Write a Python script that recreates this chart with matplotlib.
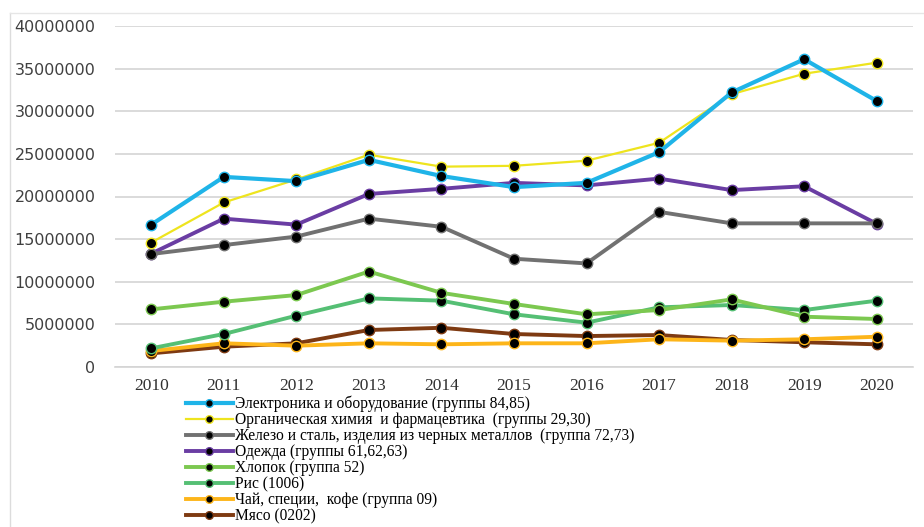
import matplotlib
matplotlib.use("Agg")
import matplotlib.pyplot as plt
from matplotlib.lines import Line2D

years = ["2010", "2011", "2012", "2013", "2014", "2015", "2016", "2017", "2018", "2019", "2020"]

electronics = [16700000, 22300000, 21800000, 24300000, 22400000, 21100000, 21600000, 25200000, 32200000, 36100000, 31200000]
chemistry = [14600000, 19300000, 22000000, 24900000, 23500000, 23600000, 24200000, 26300000, 32000000, 34400000, 35700000]
steel = [13250000, 14300000, 15300000, 17400000, 16450000, 12700000, 12150000, 18200000, 16850000, 16850000, 16850000]
clothing = [13300000, 17400000, 16700000, 20300000, 20900000, 21600000, 21300000, 22100000, 20750000, 21200000, 16800000]
cotton = [6760000, 7660000, 8440000, 11200000, 8700000, 7390000, 6180000, 6680000, 7930000, 5900000, 5630000]
rice = [2190000, 3870000, 6020000, 8050000, 7780000, 6180000, 5200000, 7000000, 7270000, 6680000, 7780000]
tea = [1880000, 2780000, 2500000, 2780000, 2660000, 2780000, 2780000, 3250000, 3090000, 3250000, 3550000]
meat = [1600000, 2380000, 2780000, 4340000, 4600000, 3870000, 3630000, 3750000, 3170000, 2900000, 2660000]

labels = [
    "Электроника и оборудование (группы 84,85)",
    "Органическая химия  и фармацевтика  (группы 29,30)",
    "Железо и сталь, изделия из черных металлов  (группа 72,73)",
    "Одежда (группы 61,62,63)",
    "Хлопок (группа 52)",
    "Рис (1006)",
    "Чай, специи,  кофе (группа 09)",
    "Мясо (0202)",
]
yticks = [0, 5000000, 10000000, 15000000, 20000000, 25000000, 30000000, 35000000, 40000000]

series = [electronics, chemistry, steel, clothing, cotton, rice, tea, meat]
colors = ["#1FB4E8", "#EEE41E", "#717171", "#6A3DA3", "#7CC850", "#55BF74", "#FDB51A", "#7E3A12"]
widths = [3.0, 1.6, 2.8, 2.8, 2.8, 2.8, 2.8, 2.8]

fig = plt.figure(figsize=(9.24, 5.27), dpi=100)
ax = fig.add_axes([115 / 924, 1 - 367 / 527, (913 - 115) / 924, (367 - 26) / 527])

x = list(range(len(years)))
handles = []
# draw in reverse so the top series sit above the lower ones
for vals, c, lw in reversed(list(zip(series, colors, widths))):
    ax.plot(x, vals, color=c, lw=lw, marker="o", markersize=7.5,
            markerfacecolor="black", markeredgecolor=c, markeredgewidth=1.0, zorder=3)
for c, lw in zip(colors, widths):
    handles.append(Line2D([], [], color=c, lw=lw, marker="o", markersize=5.5,
                          markerfacecolor="black", markeredgecolor=c))

ax.set_xlim(-0.5, len(years) - 0.5)
ax.set_ylim(0, 40000000)
ax.set_yticks(yticks)
ax.set_yticklabels([str(v) for v in yticks], fontsize=11.5, color="#404040", family="DejaVu Sans")
ax.set_xticks(x)
ax.set_xticklabels(years, fontsize=12.5, color="#303030", family="Liberation Serif")
ax.tick_params(length=0, pad=8)
ax.tick_params(axis="y", pad=14)
ax.grid(axis="y", color="#d4d4d4", lw=1.2)
ax.set_axisbelow(True)
for s in ["top", "right", "left"]:
    ax.spines[s].set_visible(False)
ax.spines["bottom"].set_color("#d4d4d4")
ax.spines["bottom"].set_linewidth(1.2)

fig.legend(handles, labels, loc="upper left", bbox_to_anchor=(186 / 924, 1 - 396 / 527),
           frameon=False, prop={"family": "Liberation Serif", "size": 11.2},
           handlelength=3.0, handletextpad=0.15, labelspacing=0.0, borderpad=0,
           borderaxespad=0)

# light frame of the chart area
fig.add_artist(Line2D([10 / 924, 10 / 924], [0, 1 - 13 / 527], transform=fig.transFigure,
                      color="#dcdcdc", lw=1))
fig.add_artist(Line2D([10 / 924, 1], [1 - 13 / 527, 1 - 13 / 527], transform=fig.transFigure,
                      color="#e6e6e6", lw=1))

fig.savefig("out.png", dpi=100)
